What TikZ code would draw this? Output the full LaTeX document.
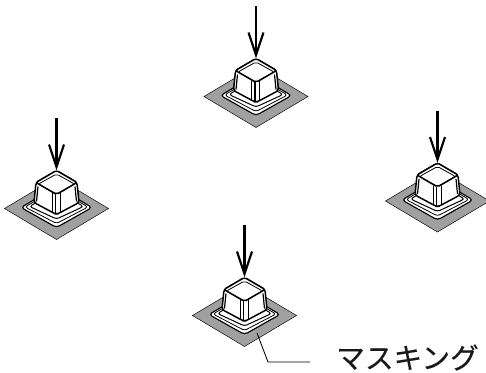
\documentclass[tikz,border=0pt]{standalone}
\usepackage{fontspec}
\newfontfamily\cjk[FakeBold=0.25]{Noto Sans CJK JP}
\definecolor{maskgray}{RGB}{160,160,160}
\tikzset{
  ln/.style={draw=black,line width=1.1pt,line join=round},
  thin ln/.style={draw=black,line width=0.6pt,line join=round},
  force/.style={draw=black,line width=1.6pt,line join=miter,miter limit=10},
  pics/keycap/.style={code={
    \fill[maskgray,draw=black,line width=0.35pt] (-52,0)--(0,-31)--(52,0)--(0,31)--cycle;
    \path[ln,line width=0.85pt,fill=white,rounded corners=2.5pt] (-35.5,-1)--(0,-22)--(35.5,-1)--(0,19)--cycle;
    \path[thin ln,rounded corners=2pt] (-31.5,-1.5)--(0,-20)--(31.5,-1.5)--(0,15)--cycle;
    \path[thin ln,line width=0.75pt,rounded corners=2pt] (-27,-2)--(0,-18)--(27,-2)--(0,10.5)--cycle;
    \path[ln,fill=white,rounded corners=2pt] (-20.5,-26)--(-22.5,-6)--(-1,5.5)--(1,5.5)--(22.5,-6)--(20.5,-26)--(0,-38)--cycle;
    \path[ln,fill=white,rounded corners=1.5pt] (-20.5,-26)--(0,-38)--(20.5,-26)--(0,-14)--cycle;
    \path[thin ln,rounded corners=1.5pt] (-18,-24.5)--(0,-34.5)--(18,-24.5)--(0,-14.5)--cycle;
    \draw[thin ln] (-4.5,-15.5)--(-4.5,4) (3.5,-15.5)--(3.5,4);
    \draw[thin ln,line width=0.9pt] (-1,-14.5)--(-1,5);
    \draw[thin ln,line width=0.9pt] (-18.5,-22)--(-20,-7) (18.5,-22)--(20,-7);
    \draw[force] (0,-90.5)--(0,-42.5);
    \draw[force] (-7.5,-64)--(0,-41.5)--(7.5,-64);
  }}
}
\begin{document}
\begin{tikzpicture}[x=0.75pt,y=-0.75pt]
\useasboundingbox (0,0) rectangle (486,372);
\clip (0,0) rectangle (486,372);
\pic at (256,96.5) {keycap};
\pic at (56.5,208.5) {keycap};
\pic at (437.5,201) {keycap};
\pic at (244.5,315.5) {keycap};
\coordinate (ls) at (257,333);
\coordinate (lb) at (268,362);
\coordinate (le) at (310,362);
\draw[thin ln,line width=0.65pt] (ls)--(lb)--(le);
\node[inner sep=0pt,anchor=west,text=black!90] (lab) at (336,357.5) {\cjk\fontsize{21.5pt}{24pt}\selectfont マスキング};
\end{tikzpicture}
\end{document}
